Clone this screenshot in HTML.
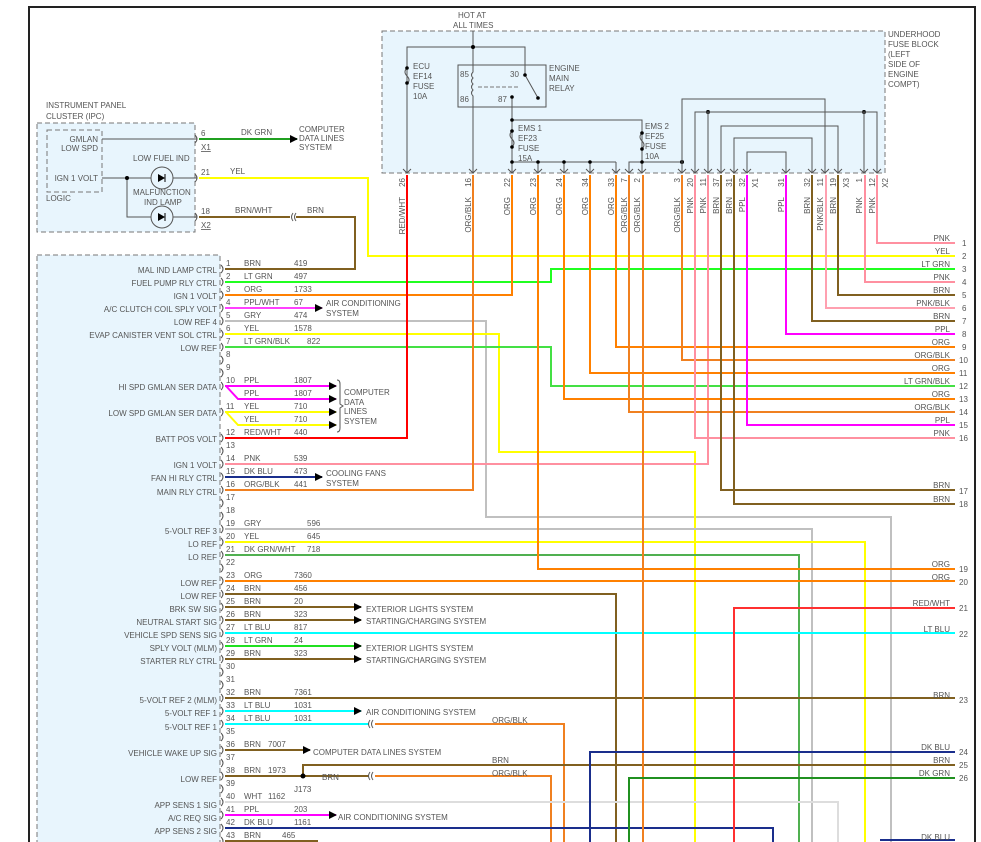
<!DOCTYPE html>
<html><head><meta charset="utf-8"><style>
html,body{margin:0;padding:0;background:#fff;}
svg{display:block;font-family:"Liberation Sans",sans-serif;}
text{font-size:8px;fill:#555;}
.w{fill:none;stroke-width:2;}
.k{fill:none;stroke:#555;stroke-width:1;}
</style></head><body>
<svg width="981" height="842" viewBox="0 0 981 842" xmlns="http://www.w3.org/2000/svg">
<defs><marker id="a" markerWidth="8" markerHeight="8" refX="7" refY="4" orient="auto" markerUnits="userSpaceOnUse"><path d="M0,0 L8,4 L0,8 z" fill="#000"/></marker></defs>
<path d="M29,842 V7 H975 V842" fill="none" stroke="#222" stroke-width="2"/>

<text x="46" y="108">INSTRUMENT PANEL</text><text x="46" y="119">CLUSTER (IPC)</text>
<rect x="37" y="123" width="158" height="109" fill="#e8f5fd" stroke="#777" stroke-dasharray="5,3"/>
<rect x="47" y="130" width="55" height="62" fill="#e8f5fd" stroke="#777" stroke-dasharray="5,3"/>
<text x="98" y="142" text-anchor="end">GMLAN</text><text x="98" y="151" text-anchor="end">LOW SPD</text>
<text x="98" y="181" text-anchor="end">IGN 1 VOLT</text>
<text x="46" y="201">LOGIC</text>
<text x="133" y="161">LOW FUEL IND</text>
<text x="133" y="195">MALFUNCTION</text><text x="144" y="205">IND LAMP</text>
<path class="k" d="M102,139 H197 M102,178 H197 M127,178 V217 H197"/>
<circle cx="127" cy="178" r="2" fill="#000"/>
<circle cx="162" cy="178" r="11" fill="#e8f5fd" stroke="#555"/><circle cx="162" cy="217" r="11" fill="#e8f5fd" stroke="#555"/>
<path d="M158,174 L158,182 L165,178 z M158,213 L158,221 L165,217 z" fill="#000"/><path d="M165,174 V182 M165,213 V221" stroke="#000"/>
<path class="k" d="M195,135 q4,4 0,8 M195,174 q4,4 0,8 M195,213 q4,4 0,8"/>
<text x="201" y="136">6</text><text x="201" y="150" text-decoration="underline">X1</text>
<text x="201" y="175">21</text><text x="201" y="214">18</text><text x="201" y="228" text-decoration="underline">X2</text>
<text x="241" y="135">DK GRN</text>
<path class="w" stroke="#20a020" d="M199,139 H297" marker-end="url(#a)"/>
<text x="299" y="132">COMPUTER</text><text x="299" y="141">DATA LINES</text><text x="299" y="150">SYSTEM</text>
<text x="230" y="174">YEL</text>
<path class="w" stroke="#ffff00" d="M199,178 H368 V256 H955"/>
<text x="235" y="213">BRN/WHT</text><text x="307" y="213">BRN</text>
<path class="w" stroke="#806020" d="M199,217 H290 M296,217 H355 V269 H225"/>
<path class="k" d="M293,213 q-3,4 0,8 M296,213 q-3,4 0,8"/>

<text x="458" y="18">HOT AT</text><text x="453" y="28">ALL TIMES</text>
<rect x="382" y="31" width="503" height="142" fill="#e8f5fd" stroke="#777" stroke-dasharray="5,3"/>
<text x="888" y="37">UNDERHOOD</text><text x="888" y="47">FUSE BLOCK</text><text x="888" y="57">(LEFT</text><text x="888" y="67">SIDE OF</text><text x="888" y="77">ENGINE</text><text x="888" y="87">COMPT)</text>
<path class="k" d="M473,31 V47 M407,173 V47 H525 V65 M473,47 V65"/>
<circle cx="473" cy="47" r="2" fill="#000"/>
<path class="k" d="M407,68 q-4,4 0,8 q4,4 0,8"/><circle cx="407" cy="68" r="1.8" fill="#000"/><circle cx="407" cy="83" r="1.8" fill="#000"/>
<text x="413" y="69">ECU</text><text x="413" y="79">EF14</text><text x="413" y="89">FUSE</text><text x="413" y="99">10A</text>
<rect x="458" y="65" width="88" height="42" fill="none" stroke="#555"/>
<path class="k" d="M473,65 V72 q-3,3 0,6 q-3,3 0,6 q-3,3 0,6 q-3,3 0,6 V107 M525,65 V75 L538,98 M512,97 V107 M473,107 V173"/>
<path d="M478,87 H520" stroke="#777" stroke-dasharray="4,2"/>
<circle cx="525" cy="75" r="1.8" fill="#000"/><circle cx="538" cy="98" r="1.8" fill="#000"/><circle cx="512" cy="97" r="1.8" fill="#000"/>
<text x="460" y="77">85</text><text x="510" y="77">30</text><text x="460" y="102">86</text><text x="498" y="102">87</text>
<text x="549" y="71">ENGINE</text><text x="549" y="81">MAIN</text><text x="549" y="91">RELAY</text>
<path class="k" d="M512,107 V173 M512,120 H642 V173 M512,162 H616 M629,173 V162 H682"/>
<path class="k" d="M538,162 V173 M564,162 V173 M590,162 V173 M616,162 V173"/>
<path class="k" d="M512,131 q-4,4 0,8 q4,4 0,8 M642,133 q-4,4 0,8 q4,4 0,8"/>
<g fill="#000"><circle cx="512" cy="120" r="1.8"/><circle cx="512" cy="131" r="1.8"/><circle cx="512" cy="147" r="1.8"/><circle cx="512" cy="162" r="1.8"/><circle cx="538" cy="162" r="1.8"/><circle cx="564" cy="162" r="1.8"/><circle cx="590" cy="162" r="1.8"/><circle cx="642" cy="133" r="1.8"/><circle cx="642" cy="149" r="1.8"/><circle cx="642" cy="162" r="1.8"/><circle cx="682" cy="162" r="2"/><circle cx="708" cy="112" r="2"/><circle cx="864" cy="112" r="2"/></g>
<text x="518" y="131">EMS 1</text><text x="518" y="141">EF23</text><text x="518" y="151">FUSE</text><text x="518" y="161">15A</text>
<text x="645" y="129">EMS 2</text><text x="645" y="139">EF25</text><text x="645" y="149">FUSE</text><text x="645" y="159">10A</text>
<path class="k" d="M682,173 V99 H825 V173 M695,173 V112 H877 V173 M708,112 V173 M864,112 V173 M721,173 V126 H838 V173 M734,173 V138 H812 V173 M747,173 V152 H786 V173"/>
<g class="k">
<path d="M403,169 l4,4 l4,-4 M469,169 l4,4 l4,-4 M508,169 l4,4 l4,-4 M534,169 l4,4 l4,-4 M560,169 l4,4 l4,-4 M586,169 l4,4 l4,-4 M612,169 l4,4 l4,-4 M625,169 l4,4 l4,-4 M638,169 l4,4 l4,-4 M678,169 l4,4 l4,-4 M691,169 l4,4 l4,-4 M704,169 l4,4 l4,-4 M717,169 l4,4 l4,-4 M730,169 l4,4 l4,-4 M743,169 l4,4 l4,-4 M782,169 l4,4 l4,-4 M808,169 l4,4 l4,-4 M821,169 l4,4 l4,-4 M834,169 l4,4 l4,-4 M860,169 l4,4 l4,-4 M873,169 l4,4 l4,-4"/>
</g>
<g>
<text transform="translate(405,178) rotate(-90)" text-anchor="end">26</text><text transform="translate(405,197) rotate(-90)" text-anchor="end">RED/WHT</text>
<text transform="translate(471,178) rotate(-90)" text-anchor="end">16</text><text transform="translate(471,197) rotate(-90)" text-anchor="end">ORG/BLK</text>
<text transform="translate(510,178) rotate(-90)" text-anchor="end">22</text><text transform="translate(510,197) rotate(-90)" text-anchor="end">ORG</text>
<text transform="translate(536,178) rotate(-90)" text-anchor="end">23</text><text transform="translate(536,197) rotate(-90)" text-anchor="end">ORG</text>
<text transform="translate(562,178) rotate(-90)" text-anchor="end">24</text><text transform="translate(562,197) rotate(-90)" text-anchor="end">ORG</text>
<text transform="translate(588,178) rotate(-90)" text-anchor="end">34</text><text transform="translate(588,197) rotate(-90)" text-anchor="end">ORG</text>
<text transform="translate(614,178) rotate(-90)" text-anchor="end">33</text><text transform="translate(614,197) rotate(-90)" text-anchor="end">ORG</text>
<text transform="translate(627,178) rotate(-90)" text-anchor="end">7</text><text transform="translate(627,197) rotate(-90)" text-anchor="end">ORG/BLK</text>
<text transform="translate(640,178) rotate(-90)" text-anchor="end">2</text><text transform="translate(640,197) rotate(-90)" text-anchor="end">ORG/BLK</text>
<text transform="translate(680,178) rotate(-90)" text-anchor="end">3</text><text transform="translate(680,197) rotate(-90)" text-anchor="end">ORG/BLK</text>
<text transform="translate(693,178) rotate(-90)" text-anchor="end">20</text><text transform="translate(693,197) rotate(-90)" text-anchor="end">PNK</text>
<text transform="translate(706,178) rotate(-90)" text-anchor="end">11</text><text transform="translate(706,197) rotate(-90)" text-anchor="end">PNK</text>
<text transform="translate(719,178) rotate(-90)" text-anchor="end">37</text><text transform="translate(719,197) rotate(-90)" text-anchor="end">BRN</text>
<text transform="translate(732,178) rotate(-90)" text-anchor="end">31</text><text transform="translate(732,197) rotate(-90)" text-anchor="end">BRN</text>
<text transform="translate(745,178) rotate(-90)" text-anchor="end">32</text><text transform="translate(745,197) rotate(-90)" text-anchor="end">PPL</text>
<text transform="translate(758,178) rotate(-90)" text-anchor="end">X1</text>
<text transform="translate(784,178) rotate(-90)" text-anchor="end">31</text><text transform="translate(784,197) rotate(-90)" text-anchor="end">PPL</text>
<text transform="translate(810,178) rotate(-90)" text-anchor="end">32</text><text transform="translate(810,197) rotate(-90)" text-anchor="end">BRN</text>
<text transform="translate(823,178) rotate(-90)" text-anchor="end">11</text><text transform="translate(823,197) rotate(-90)" text-anchor="end">PNK/BLK</text>
<text transform="translate(836,178) rotate(-90)" text-anchor="end">19</text><text transform="translate(836,197) rotate(-90)" text-anchor="end">BRN</text>
<text transform="translate(849,178) rotate(-90)" text-anchor="end">X3</text>
<text transform="translate(862,178) rotate(-90)" text-anchor="end">1</text><text transform="translate(862,197) rotate(-90)" text-anchor="end">PNK</text>
<text transform="translate(875,178) rotate(-90)" text-anchor="end">12</text><text transform="translate(875,197) rotate(-90)" text-anchor="end">PNK</text>
<text transform="translate(888,178) rotate(-90)" text-anchor="end">X2</text>
</g>

<rect x="37" y="255" width="183" height="600" fill="#e8f5fd" stroke="#777" stroke-dasharray="5,3"/>
<path class="k" d="M221,265 q4,4 0,8 M221,278 q4,4 0,8 M221,291 q4,4 0,8 M221,304 q4,4 0,8 M221,317 q4,4 0,8 M221,330 q4,4 0,8 M221,343 q4,4 0,8 M221,356 q4,4 0,8 M221,369 q4,4 0,8 M221,382 q4,4 0,8 M221,408 q4,4 0,8 M221,434 q4,4 0,8 M221,447 q4,4 0,8 M221,460 q4,4 0,8 M221,473 q4,4 0,8 M221,486 q4,4 0,8 M221,499 q4,4 0,8 M221,512 q4,4 0,8 M221,525 q4,4 0,8 M221,538 q4,4 0,8 M221,551 q4,4 0,8 M221,564 q4,4 0,8 M221,577 q4,4 0,8 M221,590 q4,4 0,8 M221,603 q4,4 0,8 M221,616 q4,4 0,8 M221,629 q4,4 0,8 M221,642 q4,4 0,8 M221,655 q4,4 0,8 M221,668 q4,4 0,8 M221,681 q4,4 0,8 M221,694 q4,4 0,8 M221,707 q4,4 0,8 M221,720 q4,4 0,8 M221,733 q4,4 0,8 M221,746 q4,4 0,8 M221,759 q4,4 0,8 M221,772 q4,4 0,8 M221,785 q4,4 0,8 M221,798 q4,4 0,8 M221,811 q4,4 0,8 M221,824 q4,4 0,8 M221,837 q4,4 0,8"/>

<g class="w">
<path stroke="#20ff20" d="M225,282 H551 V269 H955"/>
<path stroke="#ff8000" d="M225,295 H512 V175"/>
<path stroke="#ff40ff" d="M225,308 H322" marker-end="url(#a)"/>
<path stroke="#c0c0c0" d="M225,321 H486 V517 H891 V842"/>
<path stroke="#ffff00" d="M225,334 H499 V452 H695 V842"/>
<path stroke="#44e044" d="M225,347 H551 V386 H955"/>
<path stroke="#ff00ff" d="M225,386 H336" marker-end="url(#a)"/>
<path stroke="#ff00ff" d="M226,386 L238,399 H336" marker-end="url(#a)"/>
<path stroke="#ffff00" d="M225,412 H336" marker-end="url(#a)"/>
<path stroke="#ffff00" d="M226,412 L238,425 H336" marker-end="url(#a)"/>
<path stroke="#ff0000" d="M225,438 H407 V175"/>
<path stroke="#ff90a0" d="M225,464 H708 V175"/>
<path stroke="#1a2e8c" d="M225,477 H322" marker-end="url(#a)"/>
<path stroke="#f08020" d="M225,490 H473 V175"/>
<path stroke="#c0c0c0" d="M225,529 H812 V842"/>
<path stroke="#ffff00" d="M225,542 H865 V842"/>
<path stroke="#50b050" d="M225,555 H799 V842"/>
<path stroke="#ff8000" d="M225,581 H955"/>
<path stroke="#806020" d="M225,594 H616 V842"/>
<path stroke="#806020" d="M225,607 H361" marker-end="url(#a)"/>
<path stroke="#806020" d="M225,620 H361" marker-end="url(#a)"/>
<path stroke="#00ffff" d="M225,633 H955"/>
<path stroke="#20e020" d="M225,646 H361" marker-end="url(#a)"/>
<path stroke="#806020" d="M225,659 H361" marker-end="url(#a)"/>
<path stroke="#806020" d="M225,698 H955"/>
<path stroke="#00ffff" d="M225,711 H361" marker-end="url(#a)"/>
<path stroke="#00ffff" d="M225,724 H369"/>
<path stroke="#f08020" d="M375,724 H564 V842"/>
<path stroke="#806020" d="M225,750 H310" marker-end="url(#a)"/>
<path stroke="#806020" d="M225,776 H369 M303,776 V765 H955"/>
<path stroke="#f08020" d="M375,776 H551 V842"/>
<path stroke="#dddddd" d="M225,802 H838 V842"/>
<path stroke="#ff00ff" d="M225,815 H336" marker-end="url(#a)"/>
<path stroke="#1a2e8c" d="M225,828 H773 V842"/>
<path stroke="#806020" d="M225,841 H318"/>
<path stroke="#ff8000" d="M538,175 V569 H955"/>
<path stroke="#ff8000" d="M564,175 V399 H955"/>
<path stroke="#ff8000" d="M590,175 V373 H955"/>
<path stroke="#ff8000" d="M616,175 V347 H955"/>
<path stroke="#f08020" d="M629,175 V412 H955"/>
<path stroke="#f08020" d="M643,175 V842"/>
<path stroke="#f08020" d="M682,175 V360 H955"/>
<path stroke="#ff90a0" d="M695,175 V438 H955"/>
<path stroke="#806020" d="M721,175 V490 H955"/>
<path stroke="#806020" d="M734,175 V504 H955"/>
<path stroke="#ff00ff" d="M747,175 V425 H955"/>
<path stroke="#ff00ff" d="M786,175 V334 H955"/>
<path stroke="#806020" d="M812,175 V321 H955"/>
<path stroke="#ffa0b0" d="M826,175 V308 H955"/>
<path stroke="#806020" d="M838,175 V295 H955"/>
<path stroke="#ff90a0" d="M865,175 V282 H955"/>
<path stroke="#ff90a0" d="M877,175 V243 H955"/>
<path stroke="#ff3030" d="M955,608 H734 V842"/>
<path stroke="#1a2e8c" d="M955,752 H590 V842"/>
<path stroke="#209020" d="M955,778 H629 V842"/>
<path stroke="#1a2e8c" d="M955,840 H880"/>
</g>
<path class="k" d="M370,720 q-3,4 0,8 M373,720 q-3,4 0,8 M370,772 q-3,4 0,8 M373,772 q-3,4 0,8"/>
<circle cx="303" cy="776" r="2.5" fill="#000"/><text x="294" y="792">J173</text>
<text x="322" y="780">BRN</text><text x="492" y="723">ORG/BLK</text><text x="492" y="763">BRN</text><text x="492" y="776">ORG/BLK</text>
<path class="k" d="M337,380 q3,0 3,4 v20 l3,2 l-3,2 v20 q0,4 -3,4"/>

<g>
<text x="226" y="266">1</text><text x="244" y="266">BRN</text><text x="294" y="266">419</text>
<text x="226" y="279">2</text><text x="244" y="279">LT GRN</text><text x="294" y="279">497</text>
<text x="226" y="292">3</text><text x="244" y="292">ORG</text><text x="294" y="292">1733</text>
<text x="226" y="305">4</text><text x="244" y="305">PPL/WHT</text><text x="294" y="305">67</text>
<text x="226" y="318">5</text><text x="244" y="318">GRY</text><text x="294" y="318">474</text>
<text x="226" y="331">6</text><text x="244" y="331">YEL</text><text x="294" y="331">1578</text>
<text x="226" y="344">7</text><text x="244" y="344">LT GRN/BLK</text><text x="307" y="344">822</text>
<text x="226" y="357">8</text><text x="226" y="370">9</text>
<text x="226" y="383">10</text><text x="244" y="383">PPL</text><text x="294" y="383">1807</text>
<text x="244" y="396">PPL</text><text x="294" y="396">1807</text>
<text x="226" y="409">11</text><text x="244" y="409">YEL</text><text x="294" y="409">710</text>
<text x="244" y="422">YEL</text><text x="294" y="422">710</text>
<text x="226" y="435">12</text><text x="244" y="435">RED/WHT</text><text x="294" y="435">440</text>
<text x="226" y="448">13</text>
<text x="226" y="461">14</text><text x="244" y="461">PNK</text><text x="294" y="461">539</text>
<text x="226" y="474">15</text><text x="244" y="474">DK BLU</text><text x="294" y="474">473</text>
<text x="226" y="487">16</text><text x="244" y="487">ORG/BLK</text><text x="294" y="487">441</text>
<text x="226" y="500">17</text><text x="226" y="513">18</text>
<text x="226" y="526">19</text><text x="244" y="526">GRY</text><text x="307" y="526">596</text>
<text x="226" y="539">20</text><text x="244" y="539">YEL</text><text x="307" y="539">645</text>
<text x="226" y="552">21</text><text x="244" y="552">DK GRN/WHT</text><text x="307" y="552">718</text>
<text x="226" y="565">22</text>
<text x="226" y="578">23</text><text x="244" y="578">ORG</text><text x="294" y="578">7360</text>
<text x="226" y="591">24</text><text x="244" y="591">BRN</text><text x="294" y="591">456</text>
<text x="226" y="604">25</text><text x="244" y="604">BRN</text><text x="294" y="604">20</text>
<text x="226" y="617">26</text><text x="244" y="617">BRN</text><text x="294" y="617">323</text>
<text x="226" y="630">27</text><text x="244" y="630">LT BLU</text><text x="294" y="630">817</text>
<text x="226" y="643">28</text><text x="244" y="643">LT GRN</text><text x="294" y="643">24</text>
<text x="226" y="656">29</text><text x="244" y="656">BRN</text><text x="294" y="656">323</text>
<text x="226" y="669">30</text><text x="226" y="682">31</text>
<text x="226" y="695">32</text><text x="244" y="695">BRN</text><text x="294" y="695">7361</text>
<text x="226" y="708">33</text><text x="244" y="708">LT BLU</text><text x="294" y="708">1031</text>
<text x="226" y="721">34</text><text x="244" y="721">LT BLU</text><text x="294" y="721">1031</text>
<text x="226" y="734">35</text>
<text x="226" y="747">36</text><text x="244" y="747">BRN</text><text x="268" y="747">7007</text>
<text x="226" y="760">37</text>
<text x="226" y="773">38</text><text x="244" y="773">BRN</text><text x="268" y="773">1973</text>
<text x="226" y="786">39</text>
<text x="226" y="799">40</text><text x="244" y="799">WHT</text><text x="268" y="799">1162</text>
<text x="226" y="812">41</text><text x="244" y="812">PPL</text><text x="294" y="812">203</text>
<text x="226" y="825">42</text><text x="244" y="825">DK BLU</text><text x="294" y="825">1161</text>
<text x="226" y="838">43</text><text x="244" y="838">BRN</text><text x="282" y="838">465</text>
</g>
<g text-anchor="end">
<text x="217" y="273">MAL IND LAMP CTRL</text><text x="217" y="286">FUEL PUMP RLY CTRL</text><text x="217" y="299">IGN 1 VOLT</text>
<text x="217" y="312">A/C CLUTCH COIL SPLY VOLT</text><text x="217" y="325">LOW REF 4</text><text x="217" y="338">EVAP CANISTER VENT SOL CTRL</text>
<text x="217" y="351">LOW REF</text><text x="217" y="390">HI SPD GMLAN SER DATA</text><text x="217" y="416">LOW SPD GMLAN SER DATA</text>
<text x="217" y="442">BATT POS VOLT</text><text x="217" y="468">IGN 1 VOLT</text><text x="217" y="481">FAN HI RLY CTRL</text>
<text x="217" y="495">MAIN RLY CTRL</text><text x="217" y="534">5-VOLT REF 3</text><text x="217" y="547">LO REF</text><text x="217" y="560">LO REF</text>
<text x="217" y="586">LOW REF</text><text x="217" y="599">LOW REF</text><text x="217" y="612">BRK SW SIG</text><text x="217" y="625">NEUTRAL START SIG</text>
<text x="217" y="638">VEHICLE SPD SENS SIG</text><text x="217" y="651">SPLY VOLT (MLM)</text><text x="217" y="664">STARTER RLY CTRL</text>
<text x="217" y="703">5-VOLT REF 2 (MLM)</text><text x="217" y="716">5-VOLT REF 1</text><text x="217" y="730">5-VOLT REF 1</text>
<text x="217" y="756">VEHICLE WAKE UP SIG</text><text x="217" y="782">LOW REF</text><text x="217" y="808">APP SENS 1 SIG</text>
<text x="217" y="821">A/C REQ SIG</text><text x="217" y="834">APP SENS 2 SIG</text>
</g>
<text x="326" y="306">AIR CONDITIONING</text><text x="326" y="316">SYSTEM</text>
<text x="344" y="395">COMPUTER</text><text x="344" y="405">DATA</text><text x="344" y="414">LINES</text><text x="344" y="424">SYSTEM</text>
<text x="326" y="476">COOLING FANS</text><text x="326" y="486">SYSTEM</text>
<text x="366" y="612">EXTERIOR LIGHTS SYSTEM</text><text x="366" y="624">STARTING/CHARGING SYSTEM</text>
<text x="366" y="651">EXTERIOR LIGHTS SYSTEM</text><text x="366" y="663">STARTING/CHARGING SYSTEM</text>
<text x="366" y="715">AIR CONDITIONING SYSTEM</text>
<text x="313" y="755">COMPUTER DATA LINES SYSTEM</text>
<text x="338" y="820">AIR CONDITIONING SYSTEM</text>

<g text-anchor="end">
<text x="950" y="241">PNK</text><text x="950" y="254">YEL</text><text x="950" y="267">LT GRN</text><text x="950" y="280">PNK</text>
<text x="950" y="293">BRN</text><text x="950" y="306">PNK/BLK</text><text x="950" y="319">BRN</text><text x="950" y="332">PPL</text>
<text x="950" y="345">ORG</text><text x="950" y="358">ORG/BLK</text><text x="950" y="371">ORG</text><text x="950" y="384">LT GRN/BLK</text>
<text x="950" y="397">ORG</text><text x="950" y="410">ORG/BLK</text><text x="950" y="423">PPL</text><text x="950" y="436">PNK</text>
<text x="950" y="488">BRN</text><text x="950" y="502">BRN</text><text x="950" y="567">ORG</text><text x="950" y="580">ORG</text>
<text x="950" y="606">RED/WHT</text><text x="950" y="632">LT BLU</text><text x="950" y="698">BRN</text>
<text x="950" y="750">DK BLU</text><text x="950" y="763">BRN</text><text x="950" y="776">DK GRN</text><text x="950" y="840">DK BLU</text>
</g>
<g>
<text x="962" y="246">1</text><text x="962" y="259">2</text><text x="962" y="272">3</text><text x="962" y="285">4</text>
<text x="962" y="298">5</text><text x="962" y="311">6</text><text x="962" y="324">7</text><text x="962" y="337">8</text>
<text x="962" y="350">9</text><text x="959" y="363">10</text><text x="959" y="376">11</text><text x="959" y="389">12</text>
<text x="959" y="402">13</text><text x="959" y="415">14</text><text x="959" y="428">15</text><text x="959" y="441">16</text>
<text x="959" y="494">17</text><text x="959" y="507">18</text><text x="959" y="572">19</text><text x="959" y="585">20</text>
<text x="959" y="611">21</text><text x="959" y="637">22</text><text x="959" y="703">23</text>
<text x="959" y="755">24</text><text x="959" y="768">25</text><text x="959" y="781">26</text>
</g>
</svg>
</body></html>
